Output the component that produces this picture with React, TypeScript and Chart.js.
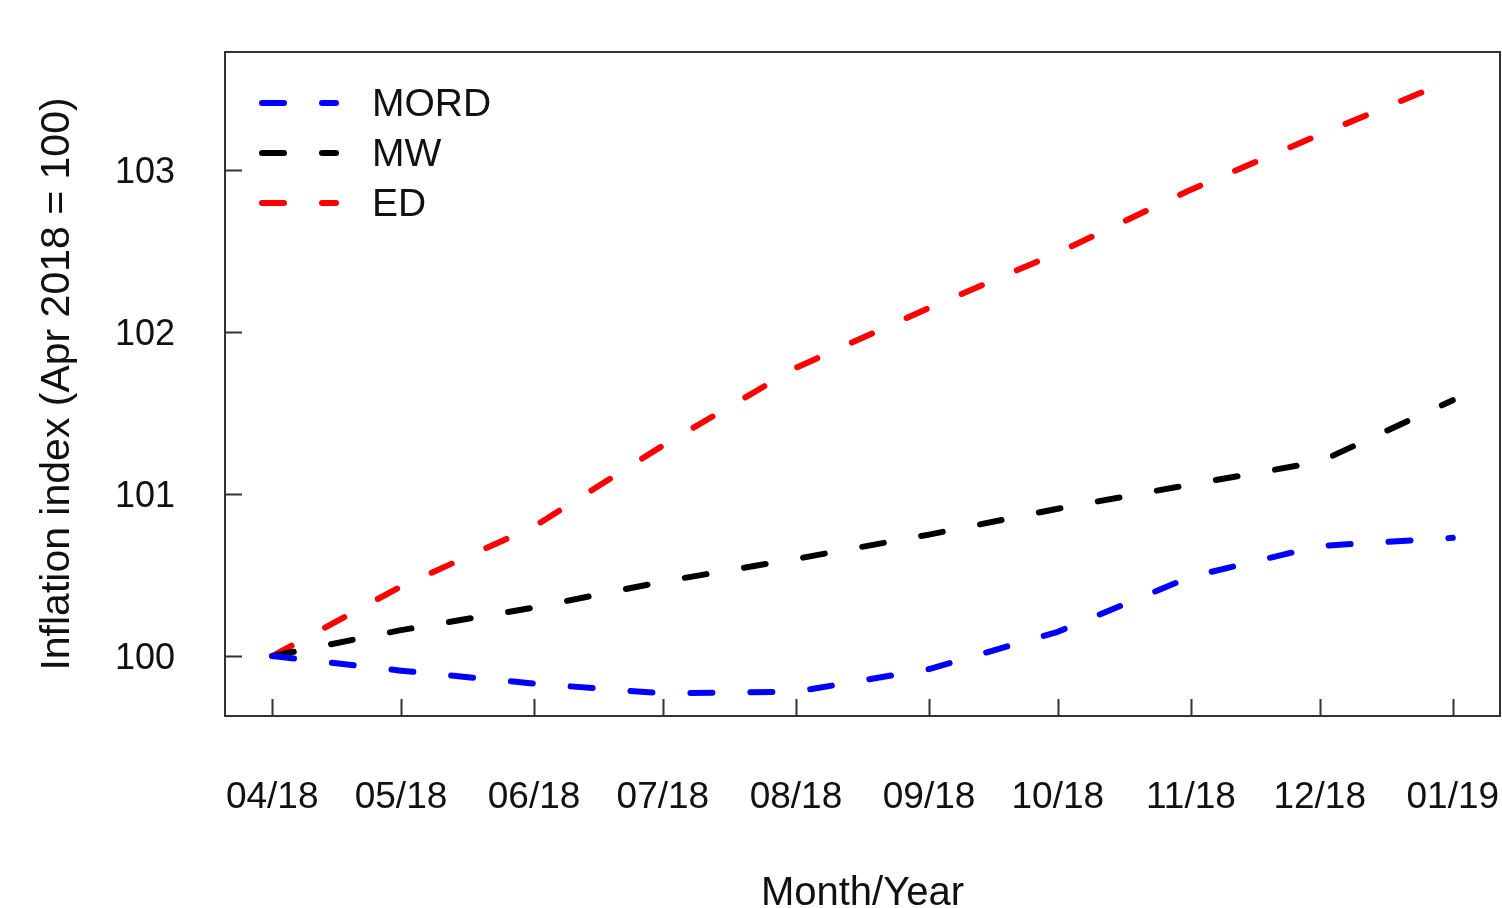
import React, { useEffect, useRef } from 'react';
import { Chart, registerables } from 'chart.js';

Chart.register(...registerables);

// Days since 1 Apr 2018 for each month start (data points and ticks)
const monthDays = [0, 30, 61, 91, 122, 153, 183, 214, 244, 275];
const monthLabels = ['04/18', '05/18', '06/18', '07/18', '08/18', '09/18', '10/18', '11/18', '12/18', '01/19'];

const mordValues = [100.0, 99.91, 99.83, 99.77, 99.78, 99.92, 100.15, 100.49, 100.68, 100.73];
const mwValues = [100.0, 100.16, 100.3, 100.46, 100.6, 100.75, 100.91, 101.06, 101.2, 101.58];
const edValues = [100.0, 100.43, 100.8, 101.3, 101.78, 102.15, 102.49, 102.88, 103.22, 103.56];

const yTicks = [100, 101, 102, 103];

const seriesNames = ['MORD', 'MW', 'ED'];
const seriesColors = ['#0000ff', '#000000', '#ff0000'];
const seriesValues = [mordValues, mwValues, edValues];

const FONT = "'Liberation Sans', Arial, Helvetica, sans-serif";
const TEXT_COLOR = '#111111';
const W = 1502;
const H = 908;

const zeroPad = (s: any) => {
  s.paddingTop = 0;
  s.paddingBottom = 0;
  s.paddingLeft = 0;
  s.paddingRight = 0;
};

const framePlugin = {
  id: 'rFrame',
  afterDatasetsDraw(chart: any) {
    const { ctx, chartArea, scales } = chart;
    const { left, right, top, bottom } = chartArea;
    ctx.save();
    ctx.setLineDash([]);
    ctx.strokeStyle = '#333333';
    ctx.lineWidth = 2;
    ctx.strokeRect(left, top, right - left, bottom - top);
    // inward ticks
    const tl = 17;
    ctx.beginPath();
    for (const t of scales.x.ticks) {
      const px = Math.round(scales.x.getPixelForValue(t.value)) + 0.5;
      ctx.moveTo(px, bottom);
      ctx.lineTo(px, bottom - tl);
    }
    for (const t of scales.y.ticks) {
      const py = Math.round(scales.y.getPixelForValue(t.value)) + 0.5;
      ctx.moveTo(left, py);
      ctx.lineTo(left + tl, py);
    }
    ctx.stroke();
    ctx.restore();
  },
};

const legendPlugin = {
  id: 'rLegend',
  afterDraw(chart: any) {
    const { ctx } = chart;
    ctx.save();
    chart.data.datasets.forEach((ds: any, i: number) => {
      const y = 103 + i * 50;
      ctx.beginPath();
      ctx.setLineDash(ds.borderDash);
      ctx.lineCap = 'round';
      ctx.lineWidth = ds.borderWidth;
      ctx.strokeStyle = ds.borderColor;
      ctx.moveTo(262, y);
      ctx.lineTo(336, y);
      ctx.stroke();
      ctx.setLineDash([]);
      ctx.fillStyle = TEXT_COLOR;
      ctx.font = `39px ${FONT}`;
      ctx.textAlign = 'left';
      ctx.textBaseline = 'middle';
      ctx.fillText(ds.label, 372, y + 2);
    });
    ctx.restore();
  },
};

export default function App() {
  const ref = useRef<HTMLCanvasElement | null>(null);

  useEffect(() => {
    if (!ref.current) return;
    const chart = new Chart(ref.current, {
      type: 'line',
      data: {
        datasets: seriesNames.map((name, i) => ({
          label: name,
          data: monthDays.map((d, j) => ({ x: d, y: seriesValues[i][j] })),
          borderColor: seriesColors[i],
          backgroundColor: seriesColors[i],
          borderWidth: 6,
          borderDash: [22, 38],
          borderCapStyle: 'round',
          borderJoinStyle: 'round',
          pointRadius: 0,
          tension: 0,
          fill: false,
        })),
      },
      options: {
        responsive: false,
        animation: false,
        devicePixelRatio: 1,
        layout: { padding: { top: 52, right: 2, left: 0, bottom: 0 } },
        plugins: {
          legend: { display: false },
          tooltip: { enabled: false },
        },
        scales: {
          x: {
            type: 'linear',
            min: -11,
            max: 286,
            afterBuildTicks: (s: any) => {
              s.ticks = monthDays.map((v) => ({ value: v }));
            },
            afterFit: (s: any) => {
              s.height = H - 716;
              zeroPad(s);
            },
            grid: { display: false, drawTicks: false },
            border: { display: false },
            ticks: {
              autoSkip: false,
              maxRotation: 0,
              minRotation: 0,
              padding: 60,
              color: TEXT_COLOR,
              font: { family: FONT, size: 37 },
              callback: (_v: any, idx: number) => monthLabels[idx],
            },
            title: {
              display: true,
              text: 'Month/Year',
              color: TEXT_COLOR,
              font: { family: FONT, size: 40 },
              padding: { top: 0, bottom: -10 },
            },
          },
          y: {
            type: 'linear',
            min: 99.63,
            max: 103.73,
            afterBuildTicks: (s: any) => {
              s.ticks = yTicks.map((v) => ({ value: v }));
            },
            afterFit: (s: any) => {
              s.width = 225;
              zeroPad(s);
            },
            grid: { display: false, drawTicks: false },
            border: { display: false },
            ticks: {
              padding: 50,
              labelOffset: 3,
              color: TEXT_COLOR,
              font: { family: FONT, size: 36 },
              callback: (v: any) => String(v),
            },
            title: {
              display: true,
              text: 'Inflation index (Apr 2018 = 100)',
              color: TEXT_COLOR,
              font: { family: FONT, size: 41 },
              padding: { top: 33, bottom: 0 },
            },
          },
        },
      },
      plugins: [framePlugin, legendPlugin],
    } as any);
    return () => chart.destroy();
  }, []);

  return (
    <div style={{ position: 'absolute', left: 0, top: 0, width: W, height: H, background: '#ffffff' }}>
      <canvas ref={ref} width={W} height={H} style={{ display: 'block', width: W, height: H }} />
    </div>
  );
}
